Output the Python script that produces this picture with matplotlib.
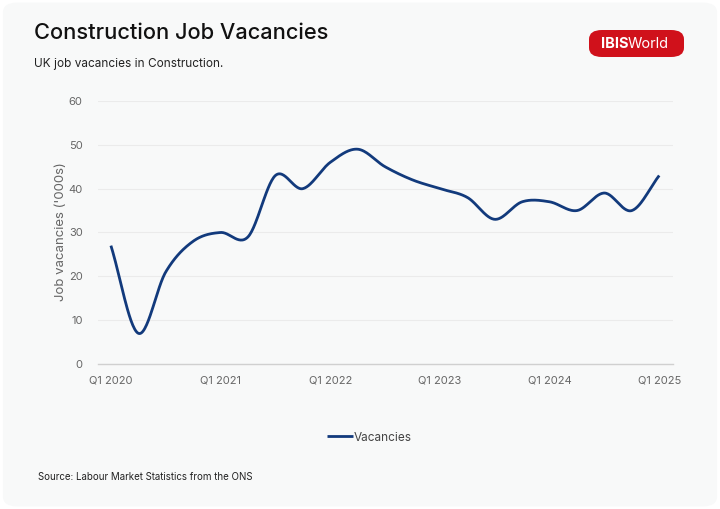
import numpy as np
import matplotlib.pyplot as plt
from matplotlib.patches import FancyBboxPatch

plt.rcParams['font.family'] = ['Inter', 'DejaVu Sans']

# quarterly data, Q1 2020 .. Q1 2025
quarters = ['Q1 2020', 'Q2 2020', 'Q3 2020', 'Q4 2020',
            'Q1 2021', 'Q2 2021', 'Q3 2021', 'Q4 2021',
            'Q1 2022', 'Q2 2022', 'Q3 2022', 'Q4 2022',
            'Q1 2023', 'Q2 2023', 'Q3 2023', 'Q4 2023',
            'Q1 2024', 'Q2 2024', 'Q3 2024', 'Q4 2024',
            'Q1 2025']
vacancies = [27, 7, 21, 28, 30, 29, 43, 40, 46, 49, 45, 42,
             40, 38, 33, 37, 37, 35, 39, 35, 43]
yticks = [0, 10, 20, 30, 40, 50, 60]

bg = '#f8f9f9'
navy = '#123a7c'
grey = '#666666'


def smooth(x, y, n=30):
    # cubic hermite with catmull-rom tangents, like a spline series
    x = np.asarray(x, float); y = np.asarray(y, float)
    m = np.gradient(y, x)
    xs, ys = [], []
    for i in range(len(x) - 1):
        t = np.linspace(0, 1, n, endpoint=False)
        h = x[i+1] - x[i]
        h00 = 2*t**3 - 3*t**2 + 1
        h10 = t**3 - 2*t**2 + t
        h01 = -2*t**3 + 3*t**2
        h11 = t**3 - t**2
        xs.append(x[i] + t*h)
        ys.append(h00*y[i] + h10*h*m[i] + h01*y[i+1] + h11*h*m[i+1])
    xs.append([x[-1]]); ys.append([y[-1]])
    return np.concatenate(xs), np.concatenate(ys)


fig = plt.figure(figsize=(7.2, 5.09), dpi=100)
fig.patch.set_facecolor('white')
fig.patches.append(FancyBboxPatch((0.004, 0.005), 0.992, 0.99,
                                  boxstyle='round,pad=0,rounding_size=0.02',
                                  transform=fig.transFigure, facecolor=bg,
                                  edgecolor='none', zorder=-10))

ax = fig.add_axes([0.136, 0.2849, 0.799, 0.5167])
ax.set_facecolor(bg)
xpos = np.arange(len(quarters))
sx, sy = smooth(xpos, vacancies)
ax.plot(sx, sy, color=navy, linewidth=2.0, solid_capstyle='butt', label='Vacancies')

ax.set_xlim(-0.474, 20.51)
ax.set_ylim(0, 60)
ax.set_yticks(yticks)
ax.set_xticks(xpos[::4])
ax.set_xticklabels(quarters[::4])
ax.tick_params(axis='both', length=0, labelsize=8, colors=grey)
ax.tick_params(axis='y', pad=11)
ax.tick_params(axis='x', pad=8)
ax.grid(axis='y', color='#ebebeb', linewidth=0.8)
ax.set_axisbelow(True)
for s in ['top', 'right', 'left']:
    ax.spines[s].set_visible(False)
ax.spines['bottom'].set_color('#d0d0d0')
ax.spines['bottom'].set_linewidth(1.0)
ax.set_ylabel("Job vacancies ('000s)", fontsize=9.5, color=grey, labelpad=1)
ax.yaxis.set_label_coords(-0.054, 0.502)

leg = ax.legend(loc='center', bbox_to_anchor=(0.472, -0.28), frameon=False,
                fontsize=8.5, handlelength=2.2, handletextpad=0.1)
for t in leg.get_texts():
    t.set_color('#444444')

fig.text(34/720, 1 - 33/509, 'Construction Job Vacancies', fontsize=15.7,
         fontweight='medium', color='#111111', va='center', ha='left')
fig.text(34/720, 1 - 64/509, 'UK job vacancies in Construction.', fontsize=8.5,
         color='#222222', va='center', ha='left')
fig.text(38/720, 1 - 477/509, 'Source: Labour Market Statistics from the ONS',
         fontsize=7, color='#222222', va='center', ha='left')

# logo pill
fig.patches.append(FancyBboxPatch((589/720, 1 - 57/509), 95/720, 27/509,
                                  boxstyle='round,pad=0,rounding_size=0.018',
                                  transform=fig.transFigure, facecolor='#d0111b',
                                  edgecolor='none'))
fig.text(601/720, 1 - 44/509, 'IBIS', fontsize=10.5, fontweight='bold',
         color='white', va='center', ha='left')
fig.text(628/720, 1 - 44/509, 'World', fontsize=10.5, color='white',
         va='center', ha='left')

plt.savefig('out.png', dpi=100, facecolor=fig.get_facecolor())
